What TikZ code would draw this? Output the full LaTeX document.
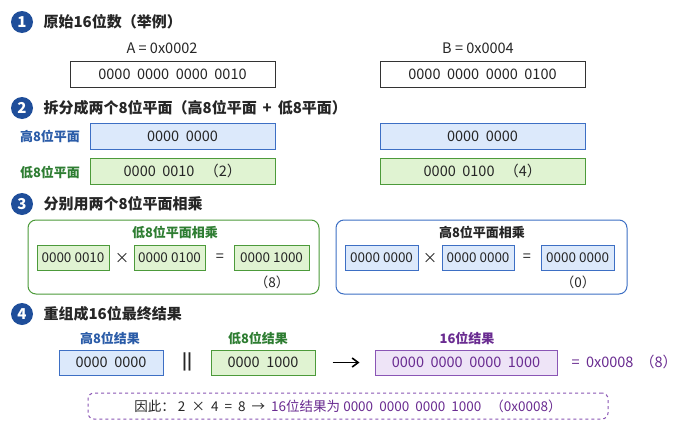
\documentclass[tikz,border=0pt]{standalone}
\usepackage{fontspec}
\setmainfont{Noto Sans CJK SC}
\usetikzlibrary{arrows.meta}
\definecolor{navy}{HTML}{1F4E9A}
\definecolor{bfill}{HTML}{DCE9FB}
\definecolor{bdraw}{HTML}{3D6FC4}
\definecolor{btext}{HTML}{2B5CA8}
\definecolor{gfill}{HTML}{E0F3D2}
\definecolor{gdraw}{HTML}{4C9A3A}
\definecolor{gtext}{HTML}{2E7D32}
\definecolor{ptext}{HTML}{6A2C91}
\definecolor{pfill}{HTML}{EEE4F7}
\definecolor{pdraw}{HTML}{8A55B5}
\begin{document}
\begin{tikzpicture}[x=1pt,y=-1pt,
  num/.style={circle,fill=navy,text=white,font=\fontsize{15}{15}\selectfont\bfseries,minimum size=22pt,inner sep=0pt},
  ttl/.style={anchor=west,font=\fontsize{15}{15}\selectfont\bfseries,text=black!85},
  txt/.style={font=\fontsize{14.5}{14.5}\selectfont,text=black!85},
  box/.style={draw=black!80,line width=1pt,minimum height=26pt,inner sep=0pt,font=\fontsize{14.5}{14.5}\selectfont,text=black!85},
  bbox/.style={box,draw=bdraw,fill=bfill},
  gbox/.style={box,draw=gdraw,fill=gfill},
  pbox/.style={box,draw=pdraw,fill=pfill,text=ptext},
  sbox/.style={draw=gdraw,fill=gfill,line width=0.8pt,minimum height=25pt,inner sep=0pt,font=\fontsize{13.5}{13.5}\selectfont,text=black!85},
  sbbox/.style={sbox,draw=bdraw,fill=bfill},
  lab/.style={font=\fontsize{13}{13}\selectfont\bfseries},
  grp/.style={rounded corners=8pt,line width=1pt}]
\useasboundingbox (0,0) rectangle (700,431);
\fill[white] (0,0) rectangle (700,431);
% 1
\node[num] (n1) at (22,22) {1};
\node[ttl] (t1) at (40,22) {原始16位数（举例）};
\node[txt] (la) at (162,48) {A = 0x0002};
\node[box,minimum width=205pt] (ba) at (172.5,74) {0000\ \ 0000\ \ 0000\ \ 0010};
\node[txt] (lb) at (478,48) {B = 0x0004};
\node[box,minimum width=205pt] (bb) at (482.5,74) {0000\ \ 0000\ \ 0000\ \ 0100};
% 2
\node[num] (n2) at (22,108) {2};
\node[ttl] (t2) at (40,108) {拆分成两个8位平面（高8位平面 \,+\, 低8平面）};
\node[lab,text=btext] (lh) at (50,136) {高8位平面};
\node[bbox,minimum width=185pt] (ah) at (182.5,136) {0000\ \ 0000};
\node[bbox,minimum width=205pt] (bh) at (482.5,136) {0000\ \ 0000};
\node[lab,text=gtext] (ll) at (50,172) {低8位平面};
\node[gbox,minimum width=185pt] (al) at (182.5,171) {0000\ \ 0010\ \ \ （2）};
\node[gbox,minimum width=205pt] (bl) at (482.5,171) {0000\ \ 0100\ \ \ （4）};
% 3
\node[num] (n3) at (22,204) {3};
\node[ttl] (t3) at (40,204) {分别用两个8位平面相乘};
\draw[grp,draw=gdraw] (28,220) rectangle (319,294);
\node[lab,text=gtext] (g1) at (175,232) {低8位平面相乘};
\node[sbox,minimum width=72pt] (m1) at (73,258) {0000 0010};
\node[txt] (x1) at (122,258) {×};
\node[sbox,minimum width=71pt] (m2) at (169.5,258) {0000 0100};
\node[txt] (e1) at (220,258) {=};
\node[sbox,minimum width=75pt] (m3) at (271.5,258) {0000 1000};
\node[txt,font=\fontsize{13.5}{13.5}\selectfont] (r1) at (272,282) {（8）};
\draw[grp,draw=bdraw] (336,220) rectangle (627,294);
\node[lab,text=black!85] (g2) at (482,232) {高8位平面相乘};
\node[sbbox,minimum width=73pt] (h1) at (381.5,258) {0000 0000};
\node[txt] (x2) at (430,258) {×};
\node[sbbox,minimum width=72pt] (h2) at (478,258) {0000 0000};
\node[txt] (e2) at (527,258) {=};
\node[sbbox,minimum width=73pt] (h3) at (577.5,258) {0000 0000};
\node[txt,font=\fontsize{13.5}{13.5}\selectfont] (r2) at (578,282) {（0）};
% 4
\node[num] (n4) at (22,314) {4};
\node[ttl] (t4) at (40,314) {重组成16位最终结果};
\node[lab,text=btext] (lh4) at (110,338) {高8位结果};
\node[bbox,minimum width=104pt,minimum height=25pt] (rh) at (111,362.5) {0000\ \ 0000};
\node[txt,font=\fontsize{16}{16}\selectfont\bfseries] (bar) at (187,362) {||};
\node[lab,text=gtext] (ll4) at (258,338) {低8位结果};
\node[gbox,minimum width=104pt,minimum height=25pt] (rl) at (263,362.5) {0000\ \ 1000};
\node[lab,text=ptext] (lp) at (467,338) {16位结果};
\node[pbox,minimum width=182pt,minimum height=25pt] (rp) at (466,362.5) {0000\ \ 0000\ \ 0000\ \ 1000};
\draw[-{Straight Barb[length=6pt,width=9pt]},line width=1.6pt] (rl.east) ++(17,0) coordinate (as) -- ([xshift=-15pt]rp.west);
\node[txt,anchor=west,text=ptext] (eq) at (568,362) {=\ \ 0x0008\ \ （8）};
\node[draw=pdraw,dashed,line width=1pt,rounded corners=6pt,minimum width=520pt,minimum height=26pt,inner sep=0pt,font=\fontsize{13.5}{13.5}\selectfont,text=black!85] (fin) at (348,406)
 {因此：\ 2\ \ ×\ \ 4\ \ =\ \ 8\ \ →\ \ \textcolor{ptext}{16位结果为\ 0000\ \ 0000\ \ 0000\ \ 1000\ \ \ （0x0008）}};
\end{tikzpicture}
\end{document}
